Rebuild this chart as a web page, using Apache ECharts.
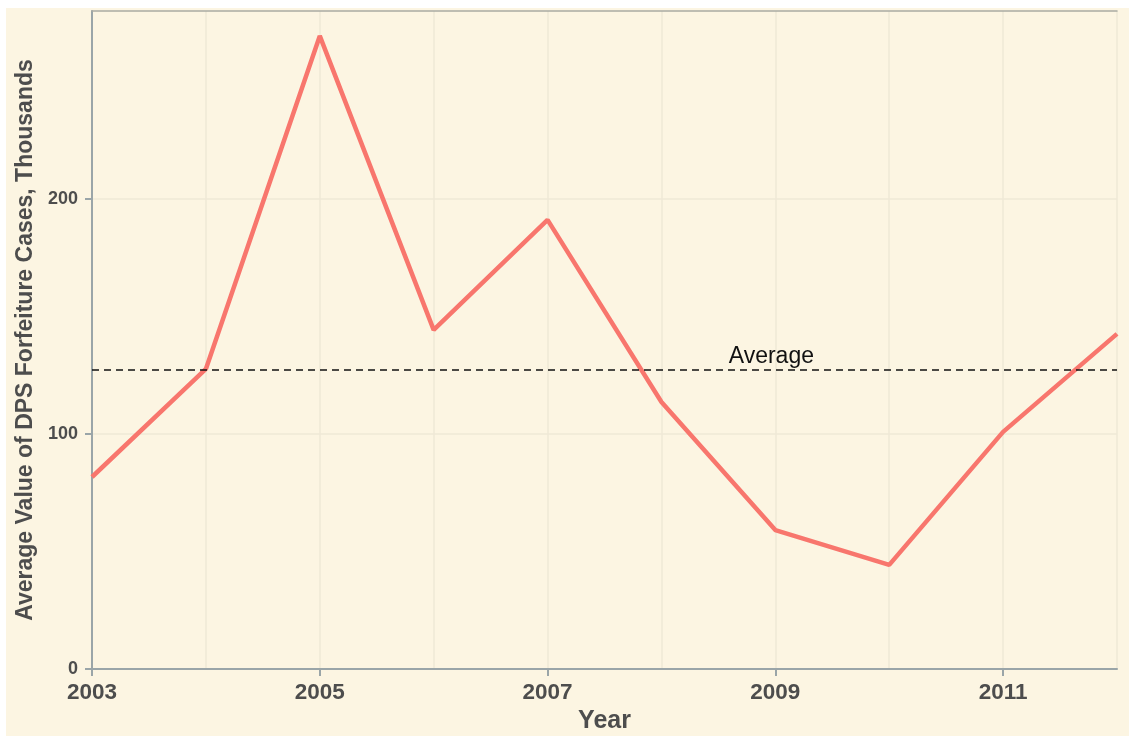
<!DOCTYPE html>
<html>
<head>
<meta charset="utf-8">
<script src="https://cdn.jsdelivr.net/npm/echarts@6/dist/echarts.min.js"></script>
<style>
  html, body { margin: 0; padding: 0; background: #ffffff; }
  #main {
    position: absolute;
    left: 6px;
    top: 8px;
    width: 1123px;
    height: 728px;
    background: #fcf5e2;
  }
</style>
</head>
<body>
<div id="main"></div>
<script>
// data
var years = ["2003", "2004", "2005", "2006", "2007", "2008", "2009", "2010", "2011", "2012"];
var avgValue = [81.7, 127.7, 269.4, 144.3, 191.1, 113.6, 59.1, 44.3, 100.9, 142.6];
var yTickValues = [0, 100, 200];
var avgLabelYear = "2009";

var mean = avgValue.reduce(function (a, b) { return a + b; }, 0) / avgValue.length;

var chart = echarts.init(document.getElementById("main"));
var textColor = "#4d4d4d";
var axisColor = "#9aa5a8";
var gridColor = "#efe8d6";
var font = "Liberation Sans, Arial, Helvetica, sans-serif";

var option = {
  backgroundColor: "#fcf5e2",
  animation: false,
  grid: { left: 86, right: 12, top: 3, bottom: 67, outerBoundsMode: "none" },
  xAxis: [
    {
      type: "category",
      data: years,
      boundaryGap: false,
      name: "Year",
      nameLocation: "middle",
      nameGap: 40,
      nameTextStyle: { color: textColor, fontSize: 25, fontWeight: "bold", fontFamily: font },
      axisLine: { lineStyle: { color: axisColor, width: 2 } },
      axisTick: { interval: 1, length: 7, lineStyle: { color: axisColor, width: 2 } },
      axisLabel: {
        interval: 1,
        margin: 12,
        color: textColor,
        fontSize: 22.5,
        fontWeight: "bold",
        fontFamily: font
      },
      splitLine: { show: true, interval: 0, lineStyle: { color: gridColor, width: 1.5 } }
    },
    {
      // top border of the panel
      type: "category",
      data: years,
      position: "top",
      boundaryGap: false,
      axisLine: { lineStyle: { color: "#a9aaa3", width: 1.5 } },
      axisTick: { show: false },
      axisLabel: { show: false },
      splitLine: { show: false }
    }
  ],
  yAxis: {
    type: "value",
    min: 0,
    max: 280,
    interval: 50,
    name: "Average Value of DPS Forfeiture Cases, Thousands",
    nameLocation: "middle",
    nameGap: 42,
    nameTextStyle: { color: textColor, fontSize: 23, fontWeight: "bold", fontFamily: font },
    axisLine: { show: true, lineStyle: { color: axisColor, width: 2 } },
    axisTick: { show: true, length: 7, customValues: yTickValues, lineStyle: { color: axisColor, width: 2 } },
    axisLabel: {
      customValues: yTickValues,
      margin: 14,
      color: textColor,
      fontSize: 18,
      fontWeight: "bold",
      fontFamily: font
    },
    splitLine: { show: true, lineStyle: { color: gridColor, width: 1.5 } }
  },
  series: [
    {
      type: "line",
      data: avgValue,
      symbol: "none",
      lineStyle: { color: "#f8766d", width: 4.5 },
      itemStyle: { color: "#f8766d" },
      markLine: {
        silent: true,
        symbol: "none",
        label: { show: false },
        lineStyle: { color: "#111111", type: [7, 5], width: 1.6 },
        data: [{ type: "average" }]
      },
      markPoint: {
        silent: true,
        symbol: "circle",
        symbolSize: 0,
        label: {
          show: true,
          position: "inside",
          offset: [-4, -13],
          formatter: "Average",
          color: "#111111",
          fontSize: 23,
          fontFamily: font
        },
        data: [{ coord: [avgLabelYear, mean] }]
      }
    }
  ]
};

chart.setOption(option);
</script>
</body>
</html>
